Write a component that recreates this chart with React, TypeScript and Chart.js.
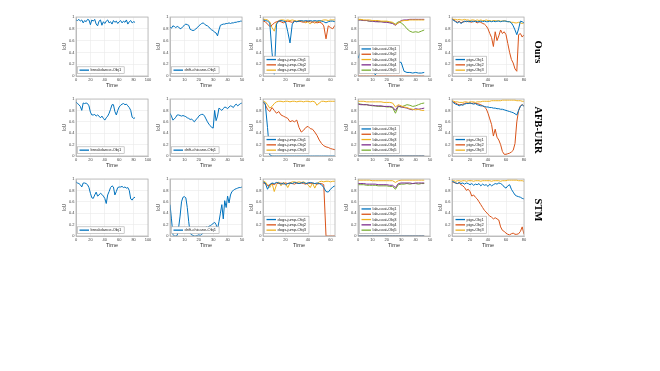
import React, { useEffect, useRef } from "react";
import { Chart, registerables } from "chart.js";
Chart.register(...registerables);

// ---------- colours (MATLAB default order) ----------
const BLUE = "#0072BD";
const ORANGE = "#D95319";
const YELLOW = "#EDB120";
const PURPLE = "#7E2F8E";
const GREEN = "#77AC30";

// ---------- row / method labels ----------
const methods = ["Ours", "AFB-URR", "STM"];

// ---------- frame indices (x) ----------
const framesBreakdance = [0,2,4,6,8,10,12,14,16,18,20,22,24,26,28,30,32,34,36,38,40,42,44,46,48,50,52,54,56,58,60,62,64,66,68,70,72,74,76,78,80,82];
const framesDrift = [0,1,2,3,4,5,6,7,8,9,10,11,12,13,14,15,16,17,18,19,20,21,22,23,24,25,26,27,28,29,30,31,32,33,34,35,36,37,38,39,40,41,42,43,44,45,46,47,48,49,50];
const framesDogs = [0,2,4,6,8,10,12,14,16,18,20,22,24,26,28,30,32,34,36,38,40,42,44,46,48,50,52,54,56,58,60,62,64];
const framesLab = [0,2,4,6,8,10,12,14,16,18,20,22,24,26,28,30,32,34,36,38,40,42,44,46];
const framesPigs = [0,2,4,6,8,10,12,14,16,18,20,22,24,26,28,30,32,34,36,38,40,42,44,46,48,50,52,54,56,58,60,62,64,66,68,70,72,74,76,78,80];

// ---------- x axis ranges / tick steps ----------
const xMax = [100, 50, 64, 50, 80];
const xStep = [20, 10, 20, 10, 20];
const yTicksStep = 0.2;

// ---------- IoU values ----------
// breakdance
const breakdanceOurs = [0.95,0.94,0.96,0.93,0.95,0.90,0.94,0.92,0.96,0.95,0.87,0.95,0.93,0.96,0.88,0.85,0.93,0.95,0.86,0.92,0.89,0.93,0.95,0.90,0.92,0.88,0.94,0.91,0.93,0.89,0.92,0.94,0.90,0.93,0.91,0.95,0.88,0.92,0.94,0.90,0.92,0.91];
const breakdanceAfb = [0.95,0.92,0.90,0.87,0.80,0.93,0.92,0.93,0.92,0.88,0.77,0.72,0.72,0.73,0.70,0.72,0.70,0.67,0.70,0.66,0.63,0.67,0.70,0.75,0.82,0.90,0.90,0.78,0.72,0.80,0.86,0.89,0.91,0.92,0.90,0.91,0.88,0.85,0.80,0.68,0.66,0.67];
const breakdanceStm = [0.95,0.93,0.92,0.90,0.86,0.93,0.93,0.92,0.90,0.85,0.75,0.67,0.66,0.72,0.77,0.70,0.72,0.75,0.73,0.70,0.66,0.57,0.72,0.78,0.85,0.88,0.86,0.72,0.78,0.85,0.86,0.86,0.87,0.85,0.86,0.84,0.85,0.80,0.65,0.63,0.67,0.68];

// drift-chicane
const driftOurs = [0.83,0.81,0.85,0.84,0.82,0.84,0.83,0.80,0.81,0.84,0.86,0.88,0.87,0.86,0.79,0.78,0.77,0.78,0.80,0.82,0.85,0.87,0.89,0.90,0.88,0.86,0.85,0.83,0.80,0.78,0.77,0.74,0.73,0.68,0.78,0.86,0.87,0.88,0.88,0.89,0.89,0.90,0.89,0.90,0.90,0.91,0.91,0.92,0.92,0.93,0.93];
const driftAfb = [0.75,0.70,0.63,0.65,0.68,0.72,0.72,0.71,0.70,0.71,0.70,0.69,0.67,0.66,0.64,0.65,0.62,0.60,0.64,0.66,0.70,0.72,0.73,0.73,0.70,0.65,0.60,0.56,0.53,0.50,0.49,0.80,0.62,0.70,0.84,0.82,0.80,0.83,0.86,0.85,0.83,0.86,0.88,0.87,0.85,0.89,0.91,0.88,0.90,0.92,0.93];
const driftStm = [0.55,0.30,0.03,0.00,0.00,0.01,0.15,0.35,0.60,0.68,0.69,0.67,0.50,0.25,0.05,0.02,0.01,0.00,0.00,0.01,0.02,0.01,0.03,0.05,0.12,0.16,0.15,0.17,0.18,0.20,0.22,0.24,0.20,0.12,0.25,0.40,0.55,0.30,0.62,0.50,0.70,0.58,0.72,0.78,0.80,0.82,0.83,0.84,0.85,0.85,0.86];

// dogs-jump
const dogsOurs1 = [0.95,0.94,0.93,0.90,0.40,0.03,0.88,0.93,0.94,0.93,0.92,0.75,0.56,0.88,0.93,0.92,0.93,0.94,0.93,0.94,0.93,0.94,0.93,0.94,0.93,0.94,0.93,0.92,0.90,0.92,0.93,0.93,0.92];
const dogsOurs2 = [0.93,0.92,0.88,0.84,0.86,0.90,0.92,0.93,0.92,0.90,0.92,0.93,0.92,0.91,0.93,0.92,0.93,0.92,0.91,0.92,0.93,0.92,0.91,0.92,0.90,0.91,0.90,0.85,0.63,0.85,0.82,0.80,0.86];
const dogsOurs3 = [0.96,0.96,0.95,0.92,0.82,0.76,0.90,0.94,0.95,0.95,0.94,0.95,0.94,0.95,0.94,0.93,0.94,0.93,0.93,0.90,0.92,0.88,0.93,0.89,0.93,0.92,0.94,0.95,0.95,0.94,0.95,0.95,0.95];
const dogsAfb1 = [0.95,0.92,0.50,0.02,0,0,0,0,0,0,0,0,0,0,0,0,0,0,0,0,0,0,0,0,0,0,0,0,0,0,0,0,0];
const dogsAfb2 = [0.95,0.90,0.82,0.78,0.85,0.80,0.75,0.78,0.72,0.70,0.68,0.66,0.60,0.62,0.60,0.63,0.50,0.42,0.45,0.50,0.52,0.48,0.47,0.42,0.36,0.28,0.22,0.18,0.16,0.15,0.13,0.12,0.11];
const dogsAfb3 = [0.96,0.95,0.90,0.84,0.87,0.92,0.95,0.96,0.96,0.95,0.96,0.96,0.95,0.96,0.96,0.95,0.96,0.96,0.95,0.96,0.96,0.95,0.96,0.95,0.89,0.93,0.96,0.96,0.95,0.96,0.96,0.96,0.96];
const dogsStm1 = [0.95,0.93,0.82,0.90,0.93,0.92,0.94,0.93,0.91,0.93,0.90,0.92,0.93,0.92,0.94,0.93,0.92,0.93,0.94,0.92,0.93,0.94,0.93,0.92,0.93,0.92,0.90,0.85,0.78,0.77,0.82,0.86,0.88];
const dogsStm2 = [0.93,0.92,0.88,0.90,0.92,0.90,0.93,0.92,0.93,0.91,0.93,0.92,0.93,0.92,0.91,0.93,0.92,0.93,0.92,0.91,0.93,0.92,0.93,0.92,0.91,0.92,0.92,0.90,0,0,0,0,0];
const dogsStm3 = [0.96,0.95,0.90,0.85,0.93,0.78,0.90,0.95,0.88,0.94,0.92,0.85,0.93,0.95,0.95,0.94,0.95,0.94,0.95,0.93,0.90,0.85,0.93,0.84,0.92,0.95,0.96,0.95,0.96,0.96,0.95,0.96,0.96];

// lab-coat
const labOurs1 = [0.30,0.42,0.40,0.35,0.25,0.10,0.02,0.08,0.14,0.18,0.21,0.23,0.24,0.25,0.24,0.23,0.08,0.06,0.06,0.05,0.06,0.05,0.05,0.06];
const labOurs2 = [0,0,0,0,0,0,0,0,0,0,0,0,0,0,0,0,0,0,0,0,0,0,0,0];
const labOurs3 = [0.96,0.96,0.95,0.95,0.95,0.94,0.94,0.94,0.93,0.93,0.93,0.92,0.91,0.87,0.90,0.93,0.94,0.94,0.95,0.95,0.95,0.95,0.95,0.95];
const labOurs4 = [0.95,0.95,0.94,0.94,0.93,0.93,0.92,0.92,0.92,0.91,0.91,0.90,0.89,0.86,0.90,0.94,0.95,0.95,0.96,0.96,0.96,0.96,0.96,0.96];
const labOurs5 = [0.95,0.95,0.94,0.94,0.93,0.93,0.93,0.92,0.92,0.92,0.92,0.91,0.90,0.88,0.92,0.90,0.86,0.80,0.76,0.74,0.75,0.74,0.76,0.78];
const labAfb1 = [0,0,0,0,0,0,0,0,0,0,0,0,0,0,0,0,0,0,0,0,0,0,0,0];
const labAfb2 = [0,0,0,0,0,0,0,0,0,0,0,0,0,0,0,0,0,0,0,0,0,0,0,0];
const labAfb3 = [0.96,0.96,0.96,0.95,0.95,0.95,0.95,0.95,0.95,0.94,0.94,0.94,0.93,0.86,0.90,0.88,0.86,0.85,0.83,0.82,0.81,0.82,0.80,0.80];
const labAfb4 = [0.91,0.90,0.90,0.90,0.89,0.89,0.88,0.88,0.88,0.87,0.87,0.87,0.86,0.80,0.88,0.86,0.85,0.84,0.82,0.81,0.83,0.82,0.83,0.84];
const labAfb5 = [0.92,0.91,0.90,0.90,0.89,0.88,0.88,0.87,0.87,0.87,0.86,0.86,0.85,0.75,0.87,0.86,0.88,0.90,0.89,0.87,0.88,0.90,0.92,0.93];
const labStm1 = [0,0,0,0,0,0,0,0,0,0,0,0,0,0,0,0,0,0,0,0,0,0,0,0];
const labStm2 = [0,0,0,0,0,0,0,0,0,0,0,0,0,0,0,0,0,0,0,0,0,0,0,0];
const labStm3 = [0.98,0.98,0.98,0.98,0.98,0.97,0.97,0.97,0.97,0.97,0.97,0.97,0.97,0.94,0.97,0.98,0.98,0.98,0.98,0.98,0.98,0.98,0.98,0.98];
const labStm4 = [0.92,0.92,0.92,0.91,0.91,0.91,0.91,0.90,0.90,0.90,0.90,0.89,0.89,0.85,0.92,0.93,0.93,0.93,0.93,0.92,0.93,0.93,0.93,0.93];
const labStm5 = [0.90,0.90,0.90,0.89,0.89,0.89,0.89,0.88,0.88,0.88,0.88,0.87,0.87,0.82,0.90,0.91,0.91,0.92,0.91,0.92,0.92,0.91,0.92,0.92];

// pigs
const pigsOurs1 = [0.96,0.94,0.92,0.90,0.92,0.89,0.91,0.93,0.92,0.93,0.92,0.93,0.92,0.93,0.92,0.92,0.93,0.92,0.93,0.92,0.92,0.93,0.92,0.93,0.92,0.93,0.93,0.92,0.93,0.93,0.93,0.92,0.92,0.90,0.85,0.78,0.70,0.80,0.93,0.92,0.90];
const pigsOurs2 = [0.96,0.95,0.93,0.91,0.93,0.90,0.92,0.92,0.93,0.92,0.92,0.91,0.93,0.92,0.90,0.92,0.91,0.89,0.88,0.85,0.80,0.72,0.65,0.50,0.75,0.60,0.68,0.78,0.72,0.75,0.70,0.55,0.40,0.28,0.22,0.12,0.08,0.70,0.72,0.66,0.70];
const pigsOurs3 = [0.97,0.96,0.96,0.95,0.96,0.95,0.95,0.96,0.95,0.95,0.94,0.95,0.95,0.94,0.95,0.94,0.95,0.94,0.94,0.95,0.94,0.94,0.93,0.94,0.94,0.93,0.94,0.93,0.93,0.94,0.93,0.92,0.92,0.91,0.91,0.90,0.90,0.91,0.90,0.89,0.90];
const pigsAfb1 = [0.96,0.93,0.91,0.90,0.88,0.90,0.89,0.91,0.92,0.92,0.93,0.92,0.91,0.92,0.90,0.89,0.88,0.88,0.87,0.86,0.86,0.85,0.85,0.84,0.84,0.83,0.83,0.82,0.82,0.81,0.80,0.79,0.78,0.77,0.76,0.74,0.72,0.80,0.87,0.90,0.87];
const pigsAfb2 = [0.96,0.94,0.93,0.91,0.90,0.90,0.91,0.92,0.93,0.92,0.93,0.92,0.93,0.92,0.92,0.91,0.90,0.88,0.86,0.83,0.75,0.65,0.55,0.35,0.47,0.33,0.28,0.20,0.08,0.03,0.03,0.04,0.05,0.07,0.10,0.22,0.60,0.80,0.88,0.90,0.88];
const pigsAfb3 = [0.97,0.96,0.95,0.95,0.94,0.94,0.94,0.95,0.95,0.94,0.95,0.95,0.95,0.94,0.95,0.95,0.95,0.96,0.96,0.96,0.96,0.96,0.97,0.97,0.97,0.97,0.97,0.97,0.98,0.98,0.98,0.98,0.98,0.98,0.98,0.98,0.97,0.97,0.97,0.96,0.96];
const pigsStm1 = [0.96,0.95,0.93,0.92,0.94,0.92,0.93,0.91,0.93,0.92,0.90,0.92,0.89,0.91,0.90,0.92,0.88,0.91,0.89,0.90,0.87,0.91,0.88,0.90,0.92,0.91,0.93,0.92,0.90,0.86,0.84,0.88,0.90,0.82,0.77,0.72,0.70,0.69,0.68,0.66,0.65];
const pigsStm2 = [0.95,0.94,0.93,0.92,0.93,0.90,0.88,0.85,0.80,0.82,0.78,0.70,0.72,0.68,0.65,0.60,0.55,0.50,0.45,0.42,0.38,0.35,0.33,0.30,0.32,0.30,0.28,0.16,0.10,0.08,0.05,0.03,0.02,0.04,0.05,0.03,0.03,0.04,0.08,0.16,0.03];
const pigsStm3 = [0.97,0.97,0.96,0.97,0.97,0.96,0.97,0.97,0.96,0.97,0.97,0.97,0.96,0.97,0.97,0.97,0.96,0.97,0.97,0.97,0.97,0.97,0.96,0.97,0.97,0.97,0.97,0.96,0.97,0.97,0.97,0.98,0.98,0.98,0.98,0.98,0.98,0.97,0.97,0.97,0.96];

type Series = { label: string; color: string; values: number[] };
type PanelCfg = { frames: number[]; col: number; series: Series[] };

const rows: PanelCfg[][] = [
  [
    { frames: framesBreakdance, col: 0, series: [{ label: "breakdance-Obj1", color: BLUE, values: breakdanceOurs }] },
    { frames: framesDrift, col: 1, series: [{ label: "drift-chicane-Obj1", color: BLUE, values: driftOurs }] },
    { frames: framesDogs, col: 2, series: [
      { label: "dogs-jump-Obj1", color: BLUE, values: dogsOurs1 },
      { label: "dogs-jump-Obj2", color: ORANGE, values: dogsOurs2 },
      { label: "dogs-jump-Obj3", color: YELLOW, values: dogsOurs3 }] },
    { frames: framesLab, col: 3, series: [
      { label: "lab-coat-Obj1", color: BLUE, values: labOurs1 },
      { label: "lab-coat-Obj2", color: ORANGE, values: labOurs2 },
      { label: "lab-coat-Obj3", color: YELLOW, values: labOurs3 },
      { label: "lab-coat-Obj4", color: PURPLE, values: labOurs4 },
      { label: "lab-coat-Obj5", color: GREEN, values: labOurs5 }] },
    { frames: framesPigs, col: 4, series: [
      { label: "pigs-Obj1", color: BLUE, values: pigsOurs1 },
      { label: "pigs-Obj2", color: ORANGE, values: pigsOurs2 },
      { label: "pigs-Obj3", color: YELLOW, values: pigsOurs3 }] },
  ],
  [
    { frames: framesBreakdance, col: 0, series: [{ label: "breakdance-Obj1", color: BLUE, values: breakdanceAfb }] },
    { frames: framesDrift, col: 1, series: [{ label: "drift-chicane-Obj1", color: BLUE, values: driftAfb }] },
    { frames: framesDogs, col: 2, series: [
      { label: "dogs-jump-Obj1", color: BLUE, values: dogsAfb1 },
      { label: "dogs-jump-Obj2", color: ORANGE, values: dogsAfb2 },
      { label: "dogs-jump-Obj3", color: YELLOW, values: dogsAfb3 }] },
    { frames: framesLab, col: 3, series: [
      { label: "lab-coat-Obj1", color: BLUE, values: labAfb1 },
      { label: "lab-coat-Obj2", color: ORANGE, values: labAfb2 },
      { label: "lab-coat-Obj3", color: YELLOW, values: labAfb3 },
      { label: "lab-coat-Obj4", color: PURPLE, values: labAfb4 },
      { label: "lab-coat-Obj5", color: GREEN, values: labAfb5 }] },
    { frames: framesPigs, col: 4, series: [
      { label: "pigs-Obj1", color: BLUE, values: pigsAfb1 },
      { label: "pigs-Obj2", color: ORANGE, values: pigsAfb2 },
      { label: "pigs-Obj3", color: YELLOW, values: pigsAfb3 }] },
  ],
  [
    { frames: framesBreakdance, col: 0, series: [{ label: "breakdance-Obj1", color: BLUE, values: breakdanceStm }] },
    { frames: framesDrift, col: 1, series: [{ label: "drift-chicane-Obj1", color: BLUE, values: driftStm }] },
    { frames: framesDogs, col: 2, series: [
      { label: "dogs-jump-Obj1", color: BLUE, values: dogsStm1 },
      { label: "dogs-jump-Obj2", color: ORANGE, values: dogsStm2 },
      { label: "dogs-jump-Obj3", color: YELLOW, values: dogsStm3 }] },
    { frames: framesLab, col: 3, series: [
      { label: "lab-coat-Obj1", color: BLUE, values: labStm1 },
      { label: "lab-coat-Obj2", color: ORANGE, values: labStm2 },
      { label: "lab-coat-Obj3", color: YELLOW, values: labStm3 },
      { label: "lab-coat-Obj4", color: PURPLE, values: labStm4 },
      { label: "lab-coat-Obj5", color: GREEN, values: labStm5 }] },
    { frames: framesPigs, col: 4, series: [
      { label: "pigs-Obj1", color: BLUE, values: pigsStm1 },
      { label: "pigs-Obj2", color: ORANGE, values: pigsStm2 },
      { label: "pigs-Obj3", color: YELLOW, values: pigsStm3 }] },
  ],
];

// ---------- layout ----------
const COL_LEFT = [76, 170, 263, 358, 452];
const PLOT_W = 72;
const ROW_TOP = [17, 99, 179];
const ROW_H = [59, 57, 57];
const LABEL_X = 538;
const LABEL_Y = [52, 130, 210];
const AX_L = 18, PAD_T = 4, PAD_R = 6, AX_B = 14;
const FONT = "'Liberation Sans', Arial, Helvetica, sans-serif";

const boxLegend = {
  id: "boxLegend",
  afterDatasetsDraw(chart: any) {
    const { ctx, chartArea } = chart;
    const ca = chartArea;
    ctx.save();
    // full axes box
    ctx.strokeStyle = "#b5b5b5";
    ctx.lineWidth = 0.8;
    ctx.strokeRect(ca.left, ca.top, ca.right - ca.left, ca.bottom - ca.top);
    // legend inside, bottom-left
    const ds = chart.data.datasets;
    ctx.font = `4px ${FONT}`;
    const lineH = 5.3;
    const seg = 9.5;
    let maxW = 0;
    ds.forEach((d: any) => { maxW = Math.max(maxW, ctx.measureText(d.label).width); });
    const w = 2 + seg + 1.5 + maxW + 3;
    const h = ds.length * lineH + 1.4;
    const x = ca.left + 1.5;
    const y = ca.bottom - 2.5 - h;
    ctx.fillStyle = "#ffffff";
    ctx.fillRect(x, y, w, h);
    ctx.strokeStyle = "#a8a8a8";
    ctx.lineWidth = 0.6;
    ctx.strokeRect(x, y, w, h);
    ds.forEach((d: any, i: number) => {
      const cy = y + 0.7 + lineH * (i + 0.5);
      ctx.strokeStyle = d.borderColor;
      ctx.lineWidth = 1.3;
      ctx.beginPath();
      ctx.moveTo(x + 2, cy);
      ctx.lineTo(x + 2 + seg, cy);
      ctx.stroke();
      ctx.fillStyle = "#222";
      ctx.textBaseline = "middle";
      ctx.textAlign = "left";
      ctx.fillText(d.label, x + 2 + seg + 1.5, cy);
    });
    ctx.restore();
  },
};

function Panel({ cfg, row }: { cfg: PanelCfg; row: number }) {
  const ref = useRef<HTMLCanvasElement>(null);
  const plotH = ROW_H[row];
  const w = AX_L + PLOT_W + PAD_R;
  const h = PAD_T + plotH + AX_B;
  useEffect(() => {
    const chart = new Chart(ref.current as HTMLCanvasElement, {
      type: "line",
      data: {
        datasets: cfg.series.map((s) => ({
          label: s.label,
          data: cfg.frames.map((f, i) => ({ x: f, y: s.values[i] })),
          borderColor: s.color,
          backgroundColor: s.color,
          borderWidth: 1,
          pointRadius: 0,
          tension: 0,
          fill: false,
        })),
      },
      options: {
        responsive: false,
        animation: false,
        events: [],
        layout: { padding: { left: 0, top: PAD_T, right: PAD_R, bottom: 0 } },
        plugins: { legend: { display: false }, tooltip: { enabled: false } },
        scales: {
          x: {
            type: "linear",
            min: 0,
            max: xMax[cfg.col],
            afterFit: (s: any) => { s.height = AX_B; },
            ticks: { stepSize: xStep[cfg.col], includeBounds: false, autoSkip: false, maxRotation: 0, padding: 1.5, color: "#444", font: { size: 4, family: FONT } },
            grid: { color: "#e9e9e9", lineWidth: 0.6, drawTicks: false },
            border: { color: "#b5b5b5", width: 0.8 },
            title: { display: true, text: "Time", color: "#333", font: { size: 5.5, family: FONT }, padding: { top: 0, bottom: 1.2 } },
          },
          y: {
            min: 0,
            max: 1,
            afterFit: (s: any) => { s.width = AX_L; },
            ticks: {
              stepSize: yTicksStep,
              autoSkip: false,
              padding: 1.5,
              color: "#444",
              font: { size: 4, family: FONT },
              callback: (v: any) => String(Math.round(Number(v) * 10) / 10),
            },
            grid: { color: "#e9e9e9", lineWidth: 0.6, drawTicks: false },
            border: { color: "#b5b5b5", width: 0.8 },
            title: { display: true, text: "IoU", color: "#333", font: { size: 4.5, family: FONT }, padding: { top: 4.3, bottom: 0 } },
          },
        },
      } as any,
      plugins: [boxLegend],
    });
    return () => chart.destroy();
  }, []);
  return (
    <canvas
      ref={ref}
      width={w}
      height={h}
      style={{ position: "absolute", left: COL_LEFT[cfg.col] - AX_L, top: ROW_TOP[row] - PAD_T, width: w, height: h }}
    />
  );
}

export default function App() {
  return (
    <div style={{ position: "fixed", left: 0, top: 0, width: 660, height: 371, background: "#fff", overflow: "hidden" }}>
      {rows.map((r, ri) => r.map((cfg, ci) => <Panel key={`${ri}-${ci}`} cfg={cfg} row={ri} />))}
      {methods.map((m, i) => (
        <div
          key={m}
          style={{
            position: "absolute",
            left: LABEL_X,
            top: LABEL_Y[i],
            transform: "translate(-50%, -50%) rotate(90deg)",
            fontFamily: "'Liberation Serif', 'Times New Roman', serif",
            fontWeight: "bold",
            fontSize: 10.5,
            lineHeight: 1,
            whiteSpace: "nowrap",
            color: "#000",
          }}
        >
          {m}
        </div>
      ))}
    </div>
  );
}
